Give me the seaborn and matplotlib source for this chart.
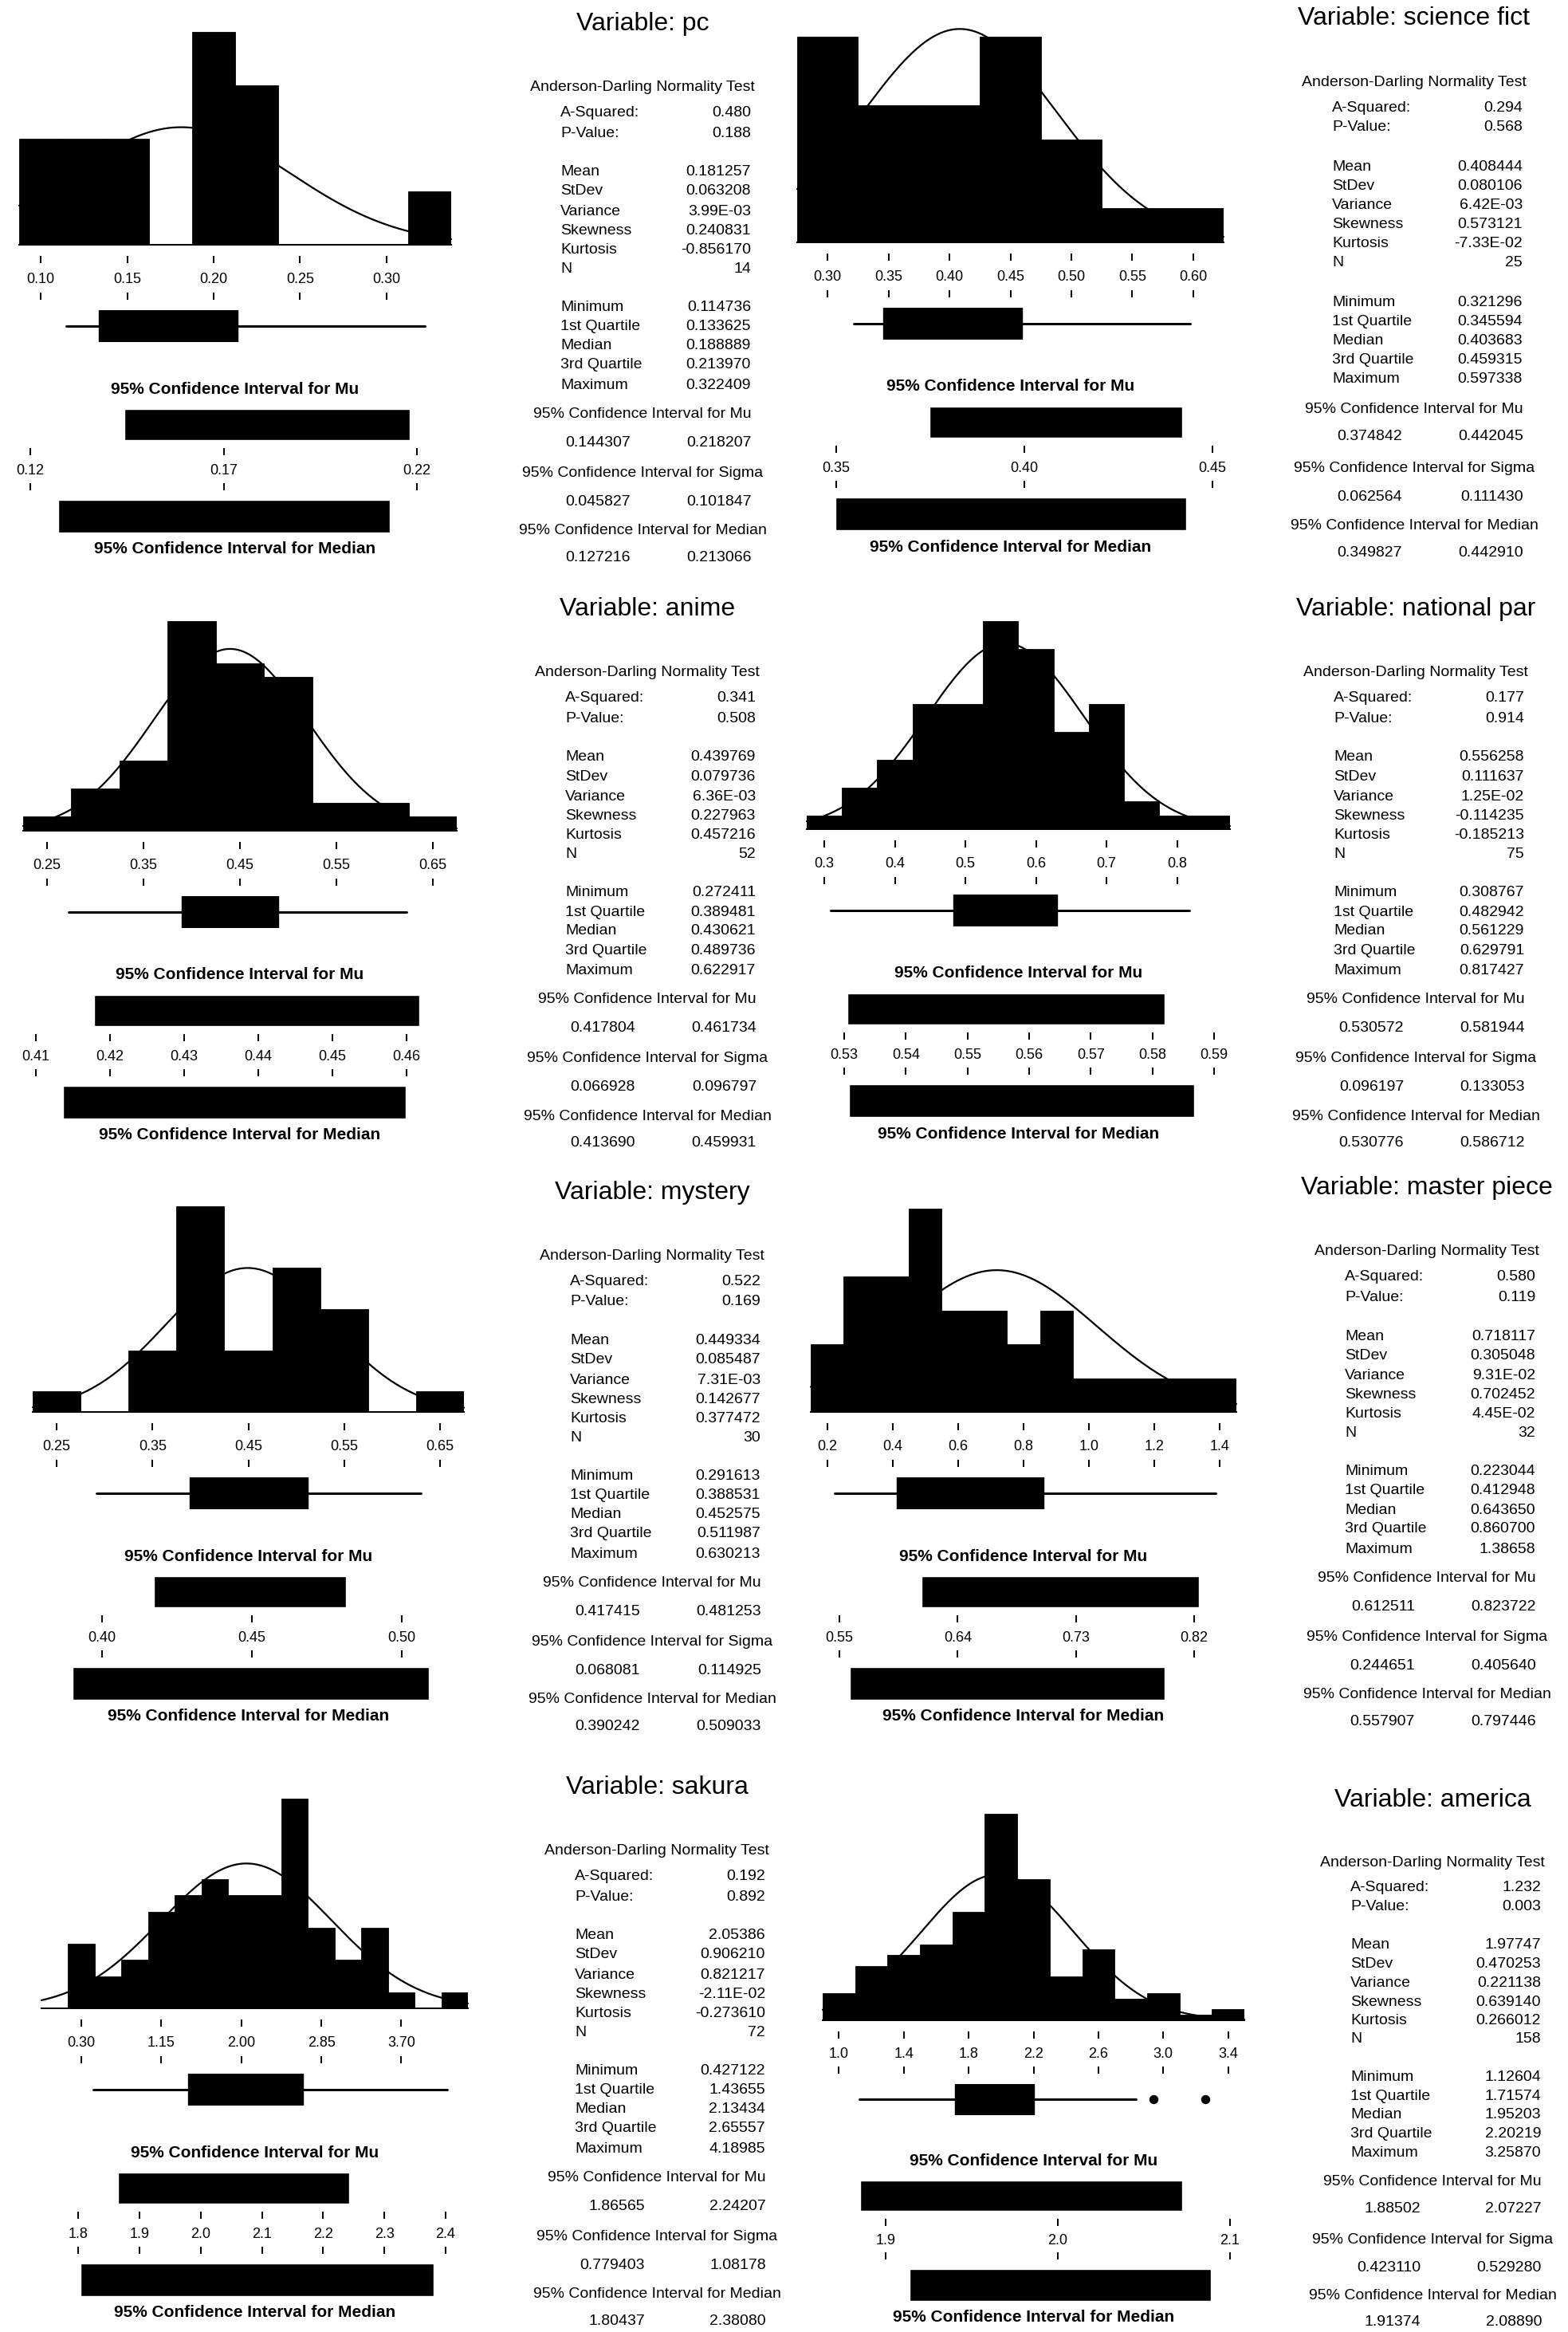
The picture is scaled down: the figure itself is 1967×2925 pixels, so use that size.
import numpy as np
import pandas as pd
import matplotlib
matplotlib.use("Agg")
import matplotlib.pyplot as plt
import seaborn as sns

# ------------------------------------------------------------------
# Graphical summaries, one per variable
# ------------------------------------------------------------------
variables = ["pc", "science fict", "anime", "national par",
             "mystery", "master piece", "sakura", "america"]

# pc
pc_bin_start, pc_bin_width = 0.0875, 0.025
pc_counts = [2, 2, 2, 0, 4, 3, 0, 0, 0, 1]
pc_hist_ticks = [0.10, 0.15, 0.20, 0.25, 0.30]
pc_hist_labels = ["0.10", "0.15", "0.20", "0.25", "0.30"]
pc_ad = [0.480, 0.188]
pc_moments = [0.181257, 0.063208, 3.99e-03, 0.240831, -0.856170]
pc_five = [0.114736, 0.133625, 0.188889, 0.213970, 0.322409]
pc_outliers = []
pc_mu_ci = [0.144307, 0.218207]
pc_sigma_ci = [0.045827, 0.101847]
pc_median_ci = [0.127216, 0.213066]
pc_ci_ticks = [0.12, 0.17, 0.22]
pc_ci_labels = ["0.12", "0.17", "0.22"]

# science fict
sf_bin_start, sf_bin_width = 0.275, 0.05
sf_counts = [6, 4, 4, 6, 3, 1, 1]
sf_hist_ticks = [0.30, 0.35, 0.40, 0.45, 0.50, 0.55, 0.60]
sf_hist_labels = ["0.30", "0.35", "0.40", "0.45", "0.50", "0.55", "0.60"]
sf_ad = [0.294, 0.568]
sf_moments = [0.408444, 0.080106, 6.42e-03, 0.573121, -7.33e-02]
sf_five = [0.321296, 0.345594, 0.403683, 0.459315, 0.597338]
sf_outliers = []
sf_mu_ci = [0.374842, 0.442045]
sf_sigma_ci = [0.062564, 0.111430]
sf_median_ci = [0.349827, 0.442910]
sf_ci_ticks = [0.35, 0.40, 0.45]
sf_ci_labels = ["0.35", "0.40", "0.45"]

# anime
an_bin_start, an_bin_width = 0.225, 0.05
an_counts = [1, 3, 5, 15, 12, 11, 2, 2, 1]
an_hist_ticks = [0.25, 0.35, 0.45, 0.55, 0.65]
an_hist_labels = ["0.25", "0.35", "0.45", "0.55", "0.65"]
an_ad = [0.341, 0.508]
an_moments = [0.439769, 0.079736, 6.36e-03, 0.227963, 0.457216]
an_five = [0.272411, 0.389481, 0.430621, 0.489736, 0.622917]
an_outliers = []
an_mu_ci = [0.417804, 0.461734]
an_sigma_ci = [0.066928, 0.096797]
an_median_ci = [0.413690, 0.459931]
an_ci_ticks = [0.41, 0.42, 0.43, 0.44, 0.45, 0.46]
an_ci_labels = ["0.41", "0.42", "0.43", "0.44", "0.45", "0.46"]

# national par
np_bin_start, np_bin_width = 0.275, 0.05
np_counts = [1, 3, 5, 9, 9, 15, 13, 7, 9, 2, 1, 1]
np_hist_ticks = [0.3, 0.4, 0.5, 0.6, 0.7, 0.8]
np_hist_labels = ["0.3", "0.4", "0.5", "0.6", "0.7", "0.8"]
np_ad = [0.177, 0.914]
np_moments = [0.556258, 0.111637, 1.25e-02, -0.114235, -0.185213]
np_five = [0.308767, 0.482942, 0.561229, 0.629791, 0.817427]
np_outliers = []
np_mu_ci = [0.530572, 0.581944]
np_sigma_ci = [0.096197, 0.133053]
np_median_ci = [0.530776, 0.586712]
np_ci_ticks = [0.53, 0.54, 0.55, 0.56, 0.57, 0.58, 0.59]
np_ci_labels = ["0.53", "0.54", "0.55", "0.56", "0.57", "0.58", "0.59"]

# mystery
my_bin_start, my_bin_width = 0.225, 0.05
my_counts = [1, 0, 3, 10, 3, 7, 5, 0, 1]
my_hist_ticks = [0.25, 0.35, 0.45, 0.55, 0.65]
my_hist_labels = ["0.25", "0.35", "0.45", "0.55", "0.65"]
my_ad = [0.522, 0.169]
my_moments = [0.449334, 0.085487, 7.31e-03, 0.142677, 0.377472]
my_five = [0.291613, 0.388531, 0.452575, 0.511987, 0.630213]
my_outliers = []
my_mu_ci = [0.417415, 0.481253]
my_sigma_ci = [0.068081, 0.114925]
my_median_ci = [0.390242, 0.509033]
my_ci_ticks = [0.40, 0.45, 0.50]
my_ci_labels = ["0.40", "0.45", "0.50"]

# master piece
mp_bin_start, mp_bin_width = 0.15, 0.1
mp_counts = [2, 4, 4, 6, 3, 3, 2, 3, 1, 1, 1, 1, 1]
mp_hist_ticks = [0.2, 0.4, 0.6, 0.8, 1.0, 1.2, 1.4]
mp_hist_labels = ["0.2", "0.4", "0.6", "0.8", "1.0", "1.2", "1.4"]
mp_ad = [0.580, 0.119]
mp_moments = [0.718117, 0.305048, 9.31e-02, 0.702452, 4.45e-02]
mp_five = [0.223044, 0.412948, 0.643650, 0.860700, 1.38658]
mp_outliers = []
mp_mu_ci = [0.612511, 0.823722]
mp_sigma_ci = [0.244651, 0.405640]
mp_median_ci = [0.557907, 0.797446]
mp_ci_ticks = [0.55, 0.64, 0.73, 0.82]
mp_ci_labels = ["0.55", "0.64", "0.73", "0.82"]

# sakura
sk_bin_start, sk_bin_width = -0.125, 0.85 / 3
sk_counts = [0, 4, 2, 3, 6, 7, 8, 7, 7, 13, 5, 3, 5, 1, 0, 1]
sk_hist_ticks = [0.30, 1.15, 2.00, 2.85, 3.70]
sk_hist_labels = ["0.30", "1.15", "2.00", "2.85", "3.70"]
sk_ad = [0.192, 0.892]
sk_moments = [2.05386, 0.906210, 0.821217, -2.11e-02, -0.273610]
sk_five = [0.427122, 1.43655, 2.13434, 2.65557, 4.18985]
sk_outliers = []
sk_mu_ci = [1.86565, 2.24207]
sk_sigma_ci = [0.779403, 1.08178]
sk_median_ci = [1.80437, 2.38080]
sk_ci_ticks = [1.8, 1.9, 2.0, 2.1, 2.2, 2.3, 2.4]
sk_ci_labels = ["1.8", "1.9", "2.0", "2.1", "2.2", "2.3", "2.4"]

# america
am_bin_start, am_bin_width = 0.9, 0.2
am_counts = [5, 10, 12, 14, 20, 38, 26, 8, 13, 4, 5, 1, 2]
am_hist_ticks = [1.0, 1.4, 1.8, 2.2, 2.6, 3.0, 3.4]
am_hist_labels = ["1.0", "1.4", "1.8", "2.2", "2.6", "3.0", "3.4"]
am_ad = [1.232, 0.003]
am_moments = [1.97747, 0.470253, 0.221138, 0.639140, 0.266012]
am_five = [1.12604, 1.71574, 1.95203, 2.20219, 3.25870]
am_upper_whisker = 2.83148
am_outliers = [2.93912, 3.25870]
am_mu_ci = [1.88502, 2.07227]
am_sigma_ci = [0.423110, 0.529280]
am_median_ci = [1.91374, 2.08890]
am_ci_ticks = [1.9, 2.0, 2.1]
am_ci_labels = ["1.9", "2.0", "2.1"]


def pack(prefix, upper_whisker=None):
    g = globals()
    return dict(
        start=g[prefix + "_bin_start"], width=g[prefix + "_bin_width"],
        counts=g[prefix + "_counts"],
        hticks=g[prefix + "_hist_ticks"], hlabels=g[prefix + "_hist_labels"],
        ad=g[prefix + "_ad"], moments=g[prefix + "_moments"],
        five=g[prefix + "_five"], outliers=g[prefix + "_outliers"],
        whishi=upper_whisker,
        mu=g[prefix + "_mu_ci"], sigma=g[prefix + "_sigma_ci"],
        median=g[prefix + "_median_ci"],
        cticks=g[prefix + "_ci_ticks"], clabels=g[prefix + "_ci_labels"],
    )


summaries = {
    "pc": pack("pc"), "science fict": pack("sf"), "anime": pack("an"),
    "national par": pack("np"), "mystery": pack("my"),
    "master piece": pack("mp"), "sakura": pack("sk"),
    "america": pack("am", am_upper_whisker),
}

# ------------------------------------------------------------------
# Page layout (pixels, origin at top-left)
# ------------------------------------------------------------------
LAYOUT = {
    "pc":           dict(hist=(24, 566),    top=40,   base=307,  ci_px=(38, 523),     title_y=30,   cx=806,  s=1.0,   ts=1.0),
    "science fict": dict(hist=(1000, 1535), top=46,   base=304,  ci_px=(1049, 1521),  title_y=23,   cx=1774, s=1.0,   ts=1.0),
    "anime":        dict(hist=(29, 573),    top=779,  base=1042, ci_px=(45, 510),     title_y=764,  cx=812,  s=1.0,   ts=1.0),
    "national par": dict(hist=(1012, 1543), top=779,  base=1040, ci_px=(1059, 1523),  title_y=764,  cx=1776, s=1.0,   ts=1.0),
    "mystery":      dict(hist=(41, 582),    top=1513, base=1771, ci_px=(128, 504),    title_y=1496, cx=818,  s=1.0,   ts=1.0),
    "master piece": dict(hist=(1017, 1551), top=1516, base=1771, ci_px=(1053, 1498),  title_y=1490, cx=1790, s=1.0,   ts=1.0),
    "sakura":       dict(hist=(52, 587),    top=2256, base=2519, ci_px=(98, 559),     title_y=2242, cx=824,  s=1.0,   ts=1.0),
    "america":      dict(hist=(1032, 1561), top=2275, base=2534, ci_px=(1111, 1543),  title_y=2258, cx=1797, s=0.975, ts=0.977),
}

# vertical offsets below the histogram baseline
BAND = (14, 69)
BOX = (82, 122)
MU_LABEL = 181
MU_BAR = (206, 245)
CI_BAND = (255, 308)
MED_BAR = (320, 361)
MED_LABEL = 382

# vertical offsets of the statistics block below the title
TXT = dict(hdr=80, asq=112, pval=137, mean=186, sd=210, var=235, skew=259,
           kurt=283, n=307, mn=356, q1=380, med=404, q3=428, mx=453,
           mu_h=490, mu_v=525, sg_h=564, sg_v=600, md_h=636, md_v=670)

sns.set_theme(style="white")
plt.rcParams["font.family"] = ["Liberation Sans", "DejaVu Sans"]
plt.rcParams["axes.facecolor"] = "white"

W, H, DPI = 1967, 2925, 100
PT = 72.0 / DPI  # points per pixel
fig = plt.figure(figsize=(W / DPI, H / DPI), dpi=DPI, facecolor="white")


def add_ax(x0, x1, y0, y1):
    ax = fig.add_axes([x0 / W, 1 - y1 / H, (x1 - x0) / W, (y1 - y0) / H])
    for sp in ax.spines.values():
        sp.set_visible(False)
    ax.set_yticks([])
    ax.set_xticks([])
    ax.patch.set_alpha(0)
    ax.grid(False)
    return ax


def scale_band(ax, ticks, labels, band_px, fs=13):
    ax.set_xticks(ticks)
    ax.set_xticklabels(labels)
    pad_px = band_px / 2 + 0.5 * fs
    ax.tick_params(axis="x", direction="in", top=True, bottom=True,
                   length=9 * PT, width=2 * PT, color="black",
                   pad=-pad_px * PT, labelsize=fs, labelcolor="black")


def fmt(v, sci_below=0.01):
    a = abs(v)
    if a == 0:
        return "0"
    if a < sci_below:
        return f"{v:.2E}"
    if a < 1:
        return f"{v:.6f}"
    if a < 10:
        return f"{v:.5f}"
    return f"{v:.4f}"


def put(x, y, s, **kw):
    fig.text(x / W, 1 - y / H, s, va="center", color="black", **kw)


def draw(name):
    d = summaries[name]
    L = LAYOUT[name]
    x0, x1 = L["hist"]
    B, s = L["base"], L["s"]
    counts = np.asarray(d["counts"], dtype=float)
    bw = d["width"]
    edges = d["start"] + bw * np.arange(len(counts) + 1)
    bins_df = pd.DataFrame({"value": edges[:-1] + bw / 2, "count": counts})
    n_obs = int(counts.sum())
    xlim = (edges[0], edges[-1])

    # histogram with fitted normal curve
    axh = add_ax(x0, x1, L["top"], B)
    sns.histplot(data=bins_df, x="value", weights="count",
                 binwidth=bw, binrange=(edges[0], edges[-1] - bw * 1e-6),
                 stat="count", color="black", edgecolor="black",
                 linewidth=0.6, alpha=1.0, ax=axh)
    mean, sd = d["moments"][0], d["moments"][1]
    xs = np.linspace(edges[0], edges[-1], 400)
    ys = n_obs * bw * np.exp(-0.5 * ((xs - mean) / sd) ** 2) / (sd * np.sqrt(2 * np.pi))
    curve_df = pd.DataFrame({"value": xs, "density": ys})
    sns.lineplot(data=curve_df, x="value", y="density", ax=axh, color="black",
                 linewidth=1.6, clip_on=False)
    axh.set_xlim(*xlim)
    axh.set_ylim(0, counts.max())
    axh.set_xlabel("")
    axh.set_ylabel("")
    axh.set_xticks([])
    axh.set_yticks([])
    axh.spines["bottom"].set_visible(True)
    axh.spines["bottom"].set_color("black")
    axh.spines["bottom"].set_linewidth(2 * PT)

    # value scale under the histogram
    axs = add_ax(x0, x1, B + BAND[0] * s, B + BAND[1] * s)
    axs.set_xlim(*xlim)
    scale_band(axs, d["hticks"], d["hlabels"], (BAND[1] - BAND[0]) * s)

    # box plot
    axb = add_ax(x0, x1, B + BOX[0] * s, B + BOX[1] * s)
    mn, q1, med, q3, mx = d["five"]
    whishi = d["whishi"] if d["whishi"] is not None else mx
    axb.bxp([dict(whislo=mn, q1=q1, med=med, q3=q3, whishi=whishi,
                  fliers=d["outliers"])],
            positions=[0], widths=1.0, orientation="horizontal",
            patch_artist=True, showcaps=False, showfliers=True,
            boxprops=dict(facecolor="black", edgecolor="black", linewidth=1),
            whiskerprops=dict(color="black", linewidth=3 * PT),
            medianprops=dict(color="black", linewidth=1),
            flierprops=dict(marker="o", markerfacecolor="black",
                            markeredgecolor="black", markersize=10 * PT))
    axb.set_xlim(*xlim)
    axb.set_ylim(-0.5, 0.5)
    axb.set_xticks([])
    axb.set_yticks([])

    # confidence-interval scale
    ct = d["cticks"]
    p0, p1 = L["ci_px"]
    ppu = (p1 - p0) / (ct[-1] - ct[0])
    cxlim = (ct[0] + (x0 - p0) / ppu, ct[0] + (x1 - p0) / ppu)
    mid = (x0 + x1) / 2

    put(mid, B + MU_LABEL * s, "95% Confidence Interval for Mu",
        ha="center", fontsize=15, fontweight="bold")
    axm = add_ax(x0, x1, B + MU_BAR[0] * s, B + MU_BAR[1] * s)
    lo, hi = d["mu"]
    axm.barh(0, hi - lo, left=lo, height=1.0, color="black")
    axm.set_xlim(*cxlim)
    axm.set_ylim(-0.5, 0.5)

    axc = add_ax(x0, x1, B + CI_BAND[0] * s, B + CI_BAND[1] * s)
    axc.set_xlim(*cxlim)
    scale_band(axc, ct, d["clabels"], (CI_BAND[1] - CI_BAND[0]) * s)

    axd = add_ax(x0, x1, B + MED_BAR[0] * s, B + MED_BAR[1] * s)
    lo, hi = d["median"]
    axd.barh(0, hi - lo, left=lo, height=1.0, color="black")
    axd.set_xlim(*cxlim)
    axd.set_ylim(-0.5, 0.5)
    put(mid, B + MED_LABEL * s, "95% Confidence Interval for Median",
        ha="center", fontsize=15, fontweight="bold")

    # statistics block
    cx, T, ts = L["cx"], L["title_y"], L["ts"]
    lx, rx = cx - 103, cx + 136
    y = lambda k: T + TXT[k] * ts
    fs = 14
    put(cx, T, f"Variable: {name}", ha="center", fontsize=23)
    put(cx, y("hdr"), "Anderson-Darling Normality Test", ha="center", fontsize=fs)
    rows = [
        ("asq", "A-Squared:", f"{d['ad'][0]:.3f}"),
        ("pval", "P-Value:", f"{d['ad'][1]:.3f}"),
        ("mean", "Mean", fmt(d["moments"][0])),
        ("sd", "StDev", fmt(d["moments"][1])),
        ("var", "Variance", fmt(d["moments"][2], 0.1)),
        ("skew", "Skewness", fmt(d["moments"][3], 0.1)),
        ("kurt", "Kurtosis", fmt(d["moments"][4], 0.1)),
        ("n", "N", f"{n_obs}"),
        ("mn", "Minimum", fmt(mn)),
        ("q1", "1st Quartile", fmt(q1)),
        ("med", "Median", fmt(med)),
        ("q3", "3rd Quartile", fmt(q3)),
        ("mx", "Maximum", fmt(mx)),
    ]
    for key, lab, val in rows:
        put(lx, y(key), lab, ha="left", fontsize=fs)
        put(rx, y(key), val, ha="right", fontsize=fs)
    for hk, vk, title, pair in [
        ("mu_h", "mu_v", "95% Confidence Interval for Mu", d["mu"]),
        ("sg_h", "sg_v", "95% Confidence Interval for Sigma", d["sigma"]),
        ("md_h", "md_v", "95% Confidence Interval for Median", d["median"]),
    ]:
        put(cx, y(hk), title, ha="center", fontsize=fs)
        put(cx - 15, y(vk), fmt(pair[0]), ha="right", fontsize=fs)
        put(cx + 137, y(vk), fmt(pair[1]), ha="right", fontsize=fs)


for v in variables:
    draw(v)

fig.savefig("out.png", dpi=DPI, facecolor="white")
